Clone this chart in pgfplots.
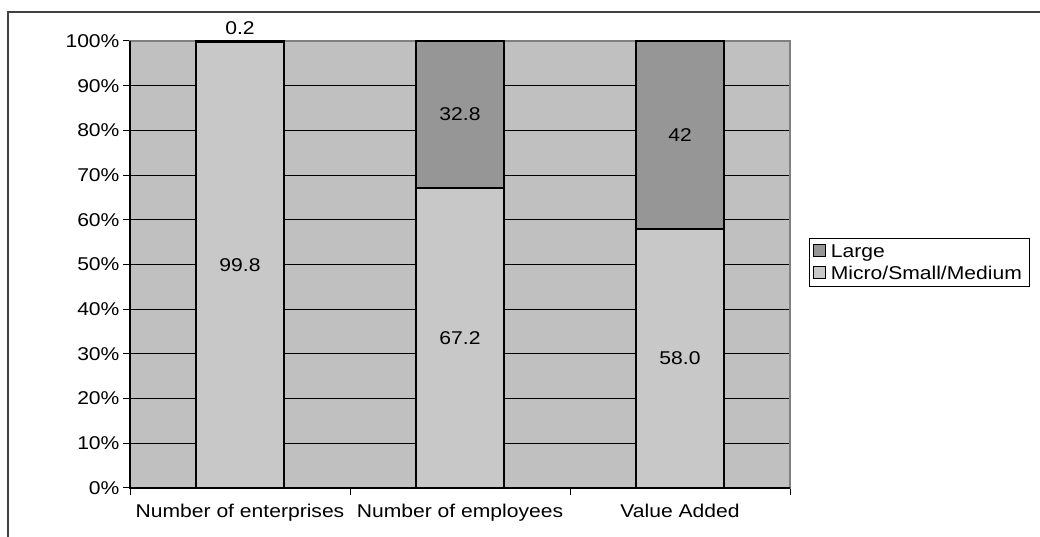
\documentclass[border=0pt]{standalone}
\usepackage{pgfplots}
\pgfplotsset{compat=1.18}
\usepackage{fontspec}
\setmainfont{Liberation Sans}[FakeStretch=1.14]
\definecolor{plotbg}{HTML}{C0C0C0}
\definecolor{smebar}{HTML}{C8C8C8}
\definecolor{largebar}{HTML}{969696}
\definecolor{boxgray}{HTML}{808080}
\begin{document}
\begin{tikzpicture}[font=\fontsize{18.5}{21}\selectfont]
\path[use as bounding box] (0,0) rectangle (1040pt,537pt);
% chart area frame (cut by the picture edge)
\draw[line width=1.3pt, black!75] (8pt,-3pt) -- (8pt,525pt) -- (1045pt,525pt);
\begin{axis}[
  at={(130pt,49pt)}, anchor=south west,
  scale only axis, width=660pt, height=447pt,
  clip=false,
  /pgf/number format/assume math mode=true,
  ybar stacked, bar width=88pt,
  xmin=-0.5, xmax=2.5, ymin=0, ymax=100,
  axis background/.style={fill=plotbg},
  axis line style={draw=boxgray, line width=1.5pt},
  xtick={-0.5,0.5,1.5,2.5}, xticklabels={},
  extra x ticks={0,1,2},
  extra x tick labels={Number of enterprises, Number of employees, Value Added},
  extra x tick style={major tick length=0pt, xticklabel style={yshift=-13pt}},
  ytick={0,10,...,100},
  yticklabel={\pgfmathprintnumber{\tick}\%},
  tick pos=left, tick align=outside,
  major tick length=7pt,
  tick style={black, line width=1pt},
  ymajorgrids,
  major grid style={black, line width=1.1pt},
  reverse legend,
  legend cell align=left,
  legend image code/.code={\draw[#1, draw=black, line width=1.2pt] (2pt,-5pt) rectangle (14pt,7pt);},
  legend style={draw=black, line width=1pt, at={(1.029,0.559)}, anchor=north west,
    inner xsep=3pt, inner ysep=4pt, row sep=3pt,
    nodes={inner xsep=5pt}},
]
\addplot[fill=smebar, draw=black, line width=1.8pt] coordinates {(0,99.8) (1,67.2) (2,58.0)};
\addplot[fill=largebar, draw=black, line width=1.8pt] coordinates {(0,0.2) (1,32.8) (2,42)};
\legend{Micro/Small/Medium, Large}
\draw[black, line width=1.5pt] (rel axis cs:0,1) -- (rel axis cs:0,0) -- (rel axis cs:1,0);
\coordinate (l1) at (axis cs:0,100);
\coordinate (l2) at (axis cs:0,49.9);
\coordinate (l3) at (axis cs:1,33.6);
\coordinate (l4) at (axis cs:1,83.6);
\coordinate (l5) at (axis cs:2,29.0);
\coordinate (l6) at (axis cs:2,79.0);
\end{axis}
\node[above=3pt] at (l1) {0.2};
\node at (l2) {99.8};
\node at (l3) {67.2};
\node at (l4) {32.8};
\node at (l5) {58.0};
\node at (l6) {42};
\end{tikzpicture}
\end{document}
